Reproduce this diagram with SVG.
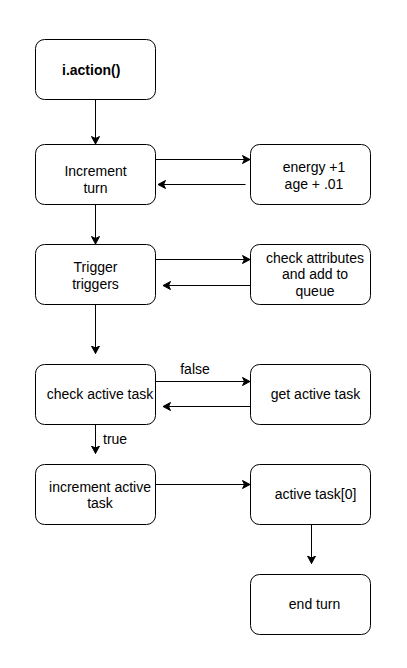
<svg xmlns="http://www.w3.org/2000/svg" width="407" height="668" viewBox="0 0 407 668">
<style>
.n rect{fill:#fff;stroke:#000;stroke-width:1}
text{font-family:"Liberation Sans",Arial,sans-serif;font-size:14px;fill:#000}
.c{text-anchor:middle}
.e path{fill:none;stroke:#000;stroke-width:1}
</style>
<defs>
<marker id="a" markerWidth="12" markerHeight="12" refX="8" refY="4.5" orient="auto" markerUnits="userSpaceOnUse">
<path d="M0.5,0.5 L8,4.5 L0.5,8.5 L2.5,4.5 Z" fill="#000" stroke="#000" stroke-width="1"/>
</marker>
</defs>
<rect width="407" height="668" fill="#fff"/>
<g class="e" id="connectors">
<path d="M95.5,99.5 V144" marker-end="url(#a)"/>
<path d="M155.5,159.5 H250" marker-end="url(#a)"/>
<path d="M245.5,184.5 H158" marker-end="url(#a)"/>
<path d="M95.5,204.5 V244" marker-end="url(#a)"/>
<path d="M155.5,259.5 H250" marker-end="url(#a)"/>
<path d="M250.5,285.5 H163" marker-end="url(#a)"/>
<path d="M95.5,304.5 V353.5" marker-end="url(#a)"/>
<path d="M155.5,381.5 H250" marker-end="url(#a)"/>
<path d="M250.5,406.5 H163" marker-end="url(#a)"/>
<path d="M95.5,424.5 V453.5" marker-end="url(#a)"/>
<path d="M155.5,484.5 H250" marker-end="url(#a)"/>
<path d="M311.5,524.5 V563.5" marker-end="url(#a)"/>
<text class="c" x="195" y="374">false</text>
<text x="103" y="444">true</text>
</g>
<g class="n" id="n1"><rect x="35.5" y="39.5" width="120" height="60" rx="9"/><text x="62" y="74.5" font-weight="bold">i.action()</text></g>
<g class="n" id="n2"><rect x="35.5" y="144.5" width="120" height="60" rx="9"/><text class="c" x="95.5" y="176">Increment</text><text class="c" x="95.5" y="193">turn</text></g>
<g class="n" id="n3"><rect x="250.5" y="144.5" width="120" height="60" rx="9"/><text class="c" x="314" y="171.5">energy +1</text><text class="c" x="314" y="188.5">age + .01</text></g>
<g class="n" id="n4"><rect x="35.5" y="244.5" width="120" height="60" rx="9"/><text class="c" x="95.5" y="271.5">Trigger</text><text class="c" x="95.5" y="288.5">triggers</text></g>
<g class="n" id="n5"><rect x="250.5" y="244.5" width="120" height="60" rx="9"/><text class="c" x="315" y="262.5">check attributes</text><text class="c" x="315" y="279">and add to</text><text class="c" x="315" y="295.5">queue</text></g>
<g class="n" id="n6"><rect x="35.5" y="364.5" width="120" height="60" rx="9"/><text class="c" x="100" y="399">check active task</text></g>
<g class="n" id="n7"><rect x="250.5" y="364.5" width="120" height="60" rx="9"/><text class="c" x="315.5" y="399">get active task</text></g>
<g class="n" id="n8"><rect x="35.5" y="464.5" width="120" height="60" rx="9"/><text class="c" x="100" y="491.5">increment active</text><text class="c" x="100" y="507.5">task</text></g>
<g class="n" id="n9"><rect x="250.5" y="464.5" width="120" height="60" rx="9"/><text class="c" x="315.5" y="499">active task[0]</text></g>
<g class="n" id="n10"><rect x="250.5" y="574.5" width="120" height="60" rx="9"/><text class="c" x="314.5" y="609">end turn</text></g>
</svg>
